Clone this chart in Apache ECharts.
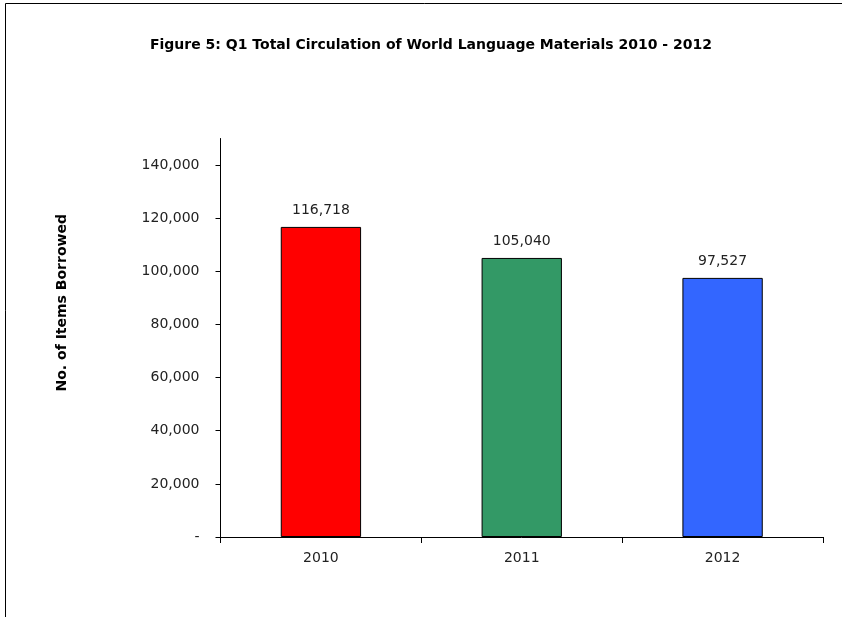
<!DOCTYPE html>
<html>
<head>
<meta charset="utf-8">
<script src="https://cdn.jsdelivr.net/npm/echarts@6/dist/echarts.min.js"></script>
<style>
  html, body { margin: 0; padding: 0; background: #fff; }
  #chart { width: 842px; height: 617px; }
</style>
</head>
<body>
<div id="chart"></div>
<script>
// Circulation figures by year
const years = ['2010', '2011', '2012'];
const itemsBorrowed = [116718, 105040, 97527];
const barColors = ['#FF0000', '#339966', '#3366FF'];
const yTicks = [0, 20000, 40000, 60000, 80000, 100000, 120000, 140000];

const fmt = v => v === 0 ? '-' : v.toLocaleString('en-US');
const labelFont = { color: '#222', fontFamily: 'DejaVu Sans', fontSize: 14 };

const chart = echarts.init(document.getElementById('chart'), null, { renderer: 'canvas' });

chart.setOption({
  animation: false,
  backgroundColor: '#fff',
  title: {
    text: 'Figure 5: Q1 Total Circulation of World Language Materials 2010 - 2012',
    left: 426,
    top: 33,
    textAlign: 'center',
    textStyle: { fontFamily: 'DejaVu Sans', fontWeight: 'bold', fontSize: 14, color: '#000' }
  },
  graphic: [{
    type: 'rect',
    shape: { x: 5.5, y: 3.5, width: 1000, height: 1000 },
    style: { fill: 'none', stroke: '#000', lineWidth: 1 },
    silent: true
  }],
  grid: { left: 220.5, right: 19, top: 138.5, bottom: 80, containLabel: false },
  xAxis: {
    type: 'category',
    data: years,
    axisLine: { lineStyle: { color: '#000', width: 1 } },
    axisTick: { show: true, length: 6, lineStyle: { color: '#000' } },
    axisLabel: Object.assign({ margin: 14 }, labelFont)
  },
  yAxis: {
    type: 'value',
    min: 0,
    max: 150000,
    interval: 10000,
    name: 'No. of Items Borrowed',
    nameLocation: 'middle',
    nameGap: 151,
    nameRotate: 90,
    nameTextStyle: {
      fontFamily: 'DejaVu Sans', fontWeight: 'bold', fontSize: 14, color: '#000',
      padding: [0, 0, 0, 70]
    },
    splitLine: { show: false },
    axisLine: { show: true, lineStyle: { color: '#000', width: 1 } },
    axisTick: { show: true, length: 5, customValues: yTicks, lineStyle: { color: '#000' } },
    axisLabel: Object.assign({ customValues: yTicks, formatter: fmt, margin: 21 }, labelFont)
  },
  series: [{
    type: 'bar',
    barWidth: '40%',
    data: itemsBorrowed.map((v, i) => ({
      value: v,
      itemStyle: { color: barColors[i], borderColor: '#000', borderWidth: 1 }
    })),
    label: Object.assign({
      show: true,
      position: 'top',
      distance: 10,
      formatter: p => fmt(p.value)
    }, labelFont)
  }]
});
</script>
</body>
</html>
